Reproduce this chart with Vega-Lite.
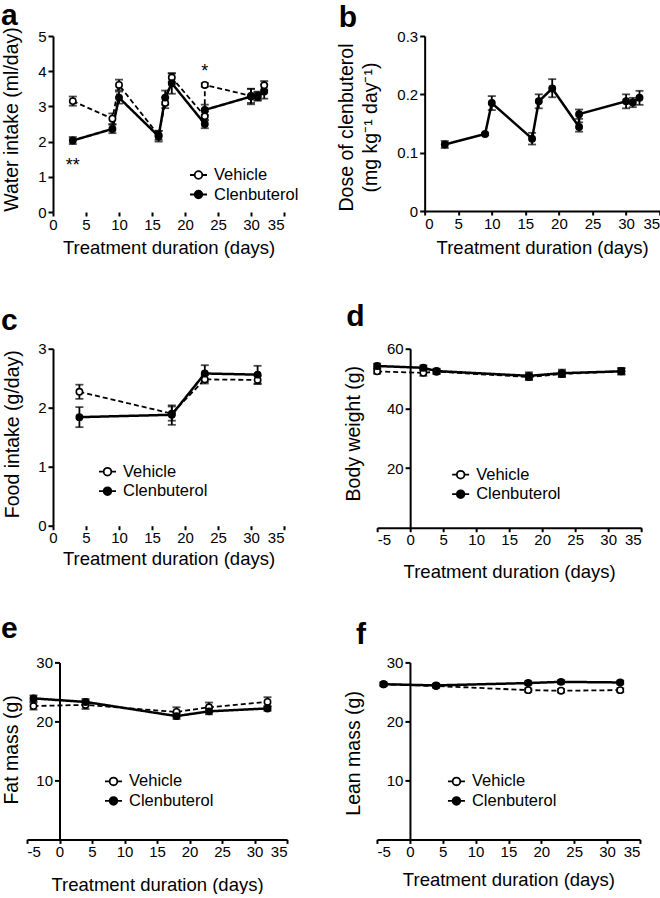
{
  "$schema": "https://vega.github.io/schema/vega-lite/v6.json",
  "padding": 0,
  "autosize": {"type": "pad"},
  "background": "white",
  "config": {
    "font": "Liberation Sans",
    "view": {"stroke": null},
    "axis": {"grid": false, "domainColor": "black", "domainWidth": 2, "tickColor": "black", "tickWidth": 2, "tickSize": 5, "labelColor": "black", "labelFontSize": 15, "labelFont": "Liberation Sans", "titleFont": "Liberation Sans", "titleColor": "black", "titleFontWeight": "normal", "labelPadding": 2},
    "axisX": {"titleFontSize": 18.5, "titleBaseline": "top", "labelPadding": 1, "tickSize": 4},
    "axisY": {"titleFontSize": 19.5, "titleBaseline": "middle", "titleAlign": "center", "titleAngle": -90},
    "title": {"fontSize": 30, "fontWeight": "bold", "anchor": "start", "frame": "group", "color": "black", "baseline": "alphabetic", "font": "Liberation Sans"},
    "legend": {"orient": "none", "symbolType": "M-1,0H-0.45M0.45,0H1M0.45,0A0.45,0.45,0,1,1,-0.45,0A0.45,0.45,0,1,1,0.45,0Z", "symbolSize": 289, "symbolStrokeColor": "black", "symbolStrokeWidth": 1.8, "labelFontSize": 16.5, "labelFont": "Liberation Sans", "labelColor": "black", "labelOffset": 6, "rowPadding": 1.5}
  },
  "datasets": {
    "a": [
      {"day": 3, "value": 3.15, "lo": 3.02, "hi": 3.28, "group": "Vehicle"},
      {"day": 9, "value": 2.65, "lo": 2.5, "hi": 2.8, "group": "Vehicle"},
      {"day": 10, "value": 3.61, "lo": 3.46, "hi": 3.76, "group": "Vehicle"},
      {"day": 16, "value": 2.18, "lo": 2.05, "hi": 2.31, "group": "Vehicle"},
      {"day": 17, "value": 3.1, "lo": 2.95, "hi": 3.25, "group": "Vehicle"},
      {"day": 18, "value": 3.82, "lo": 3.7, "hi": 3.94, "group": "Vehicle"},
      {"day": 23, "value": 2.72, "lo": 2.6, "hi": 2.85, "group": "Vehicle"},
      {"day": 23, "value": 3.61, "lo": 3.56, "hi": 3.66, "group": "Vehicle"},
      {"day": 30, "value": 3.3, "lo": 3.1, "hi": 3.5, "group": "Vehicle"},
      {"day": 31, "value": 3.3, "lo": 3.18, "hi": 3.42, "group": "Vehicle"},
      {"day": 32, "value": 3.6, "lo": 3.48, "hi": 3.72, "group": "Vehicle"},
      {"day": 3, "value": 2.03, "lo": 1.93, "hi": 2.13, "group": "Clenbuterol"},
      {"day": 9, "value": 2.36, "lo": 2.24, "hi": 2.48, "group": "Clenbuterol"},
      {"day": 10, "value": 3.25, "lo": 3.08, "hi": 3.42, "group": "Clenbuterol"},
      {"day": 16, "value": 2.15, "lo": 2.0, "hi": 2.3, "group": "Clenbuterol"},
      {"day": 17, "value": 3.25, "lo": 3.05, "hi": 3.45, "group": "Clenbuterol"},
      {"day": 18, "value": 3.66, "lo": 3.36, "hi": 3.94, "group": "Clenbuterol"},
      {"day": 23, "value": 2.5, "lo": 2.38, "hi": 2.62, "group": "Clenbuterol"},
      {"day": 23, "value": 2.9, "lo": 2.75, "hi": 3.05, "group": "Clenbuterol"},
      {"day": 30, "value": 3.28, "lo": 3.06, "hi": 3.5, "group": "Clenbuterol"},
      {"day": 31, "value": 3.28, "lo": 3.16, "hi": 3.4, "group": "Clenbuterol"},
      {"day": 32, "value": 3.42, "lo": 3.22, "hi": 3.62, "group": "Clenbuterol"}
    ],
    "b": [
      {"day": 3, "value": 0.114, "lo": 0.108, "hi": 0.12, "group": "Clenbuterol"},
      {"day": 9, "value": 0.132, "lo": 0.13, "hi": 0.134, "group": "Clenbuterol"},
      {"day": 10, "value": 0.185, "lo": 0.173, "hi": 0.197, "group": "Clenbuterol"},
      {"day": 16, "value": 0.124, "lo": 0.114, "hi": 0.134, "group": "Clenbuterol"},
      {"day": 17, "value": 0.188, "lo": 0.176, "hi": 0.2, "group": "Clenbuterol"},
      {"day": 19, "value": 0.21, "lo": 0.195, "hi": 0.226, "group": "Clenbuterol"},
      {"day": 23, "value": 0.144, "lo": 0.136, "hi": 0.152, "group": "Clenbuterol"},
      {"day": 23, "value": 0.166, "lo": 0.158, "hi": 0.174, "group": "Clenbuterol"},
      {"day": 30, "value": 0.188, "lo": 0.176, "hi": 0.2, "group": "Clenbuterol"},
      {"day": 31, "value": 0.186, "lo": 0.178, "hi": 0.194, "group": "Clenbuterol"},
      {"day": 32, "value": 0.194, "lo": 0.182, "hi": 0.206, "group": "Clenbuterol"}
    ],
    "c": [
      {"day": 4, "value": 2.27, "lo": 2.15, "hi": 2.39, "group": "Vehicle"},
      {"day": 18, "value": 1.9, "lo": 1.78, "hi": 2.02, "group": "Vehicle"},
      {"day": 23, "value": 2.48, "lo": 2.41, "hi": 2.55, "group": "Vehicle"},
      {"day": 31, "value": 2.47, "lo": 2.4, "hi": 2.54, "group": "Vehicle"},
      {"day": 4, "value": 1.84, "lo": 1.67, "hi": 2.01, "group": "Clenbuterol"},
      {"day": 18, "value": 1.88, "lo": 1.71, "hi": 2.04, "group": "Clenbuterol"},
      {"day": 23, "value": 2.58, "lo": 2.44, "hi": 2.72, "group": "Clenbuterol"},
      {"day": 31, "value": 2.56, "lo": 2.41, "hi": 2.71, "group": "Clenbuterol"}
    ],
    "d": [
      {"day": -5, "value": 52.4, "lo": 51.6, "hi": 53.2, "group": "Vehicle"},
      {"day": 2, "value": 51.9, "lo": 50.9, "hi": 52.9, "group": "Vehicle"},
      {"day": 4, "value": 52.3, "lo": 51.5, "hi": 53.1, "group": "Vehicle"},
      {"day": 18, "value": 50.5, "lo": 49.5, "hi": 51.5, "group": "Vehicle"},
      {"day": 23, "value": 51.5, "lo": 50.5, "hi": 52.5, "group": "Vehicle"},
      {"day": 32, "value": 52.5, "lo": 51.5, "hi": 53.5, "group": "Vehicle"},
      {"day": -5, "value": 54.2, "lo": 53.4, "hi": 55.0, "group": "Clenbuterol"},
      {"day": 2, "value": 53.6, "lo": 52.8, "hi": 54.4, "group": "Clenbuterol"},
      {"day": 4, "value": 52.5, "lo": 51.7, "hi": 53.3, "group": "Clenbuterol"},
      {"day": 18, "value": 50.9, "lo": 49.7, "hi": 52.1, "group": "Clenbuterol"},
      {"day": 23, "value": 51.8, "lo": 50.6, "hi": 53.0, "group": "Clenbuterol"},
      {"day": 32, "value": 52.4, "lo": 51.3, "hi": 53.5, "group": "Clenbuterol"}
    ],
    "e": [
      {"day": -4, "value": 22.6, "lo": 22.0, "hi": 23.2, "group": "Vehicle"},
      {"day": 4, "value": 22.8, "lo": 22.1, "hi": 23.5, "group": "Vehicle"},
      {"day": 18, "value": 21.6, "lo": 20.8, "hi": 22.4, "group": "Vehicle"},
      {"day": 23, "value": 22.4, "lo": 21.6, "hi": 23.2, "group": "Vehicle"},
      {"day": 32, "value": 23.3, "lo": 22.5, "hi": 24.1, "group": "Vehicle"},
      {"day": -4, "value": 23.9, "lo": 23.4, "hi": 24.4, "group": "Clenbuterol"},
      {"day": 4, "value": 23.3, "lo": 22.8, "hi": 23.8, "group": "Clenbuterol"},
      {"day": 18, "value": 20.9, "lo": 20.4, "hi": 21.4, "group": "Clenbuterol"},
      {"day": 23, "value": 21.7, "lo": 21.2, "hi": 22.2, "group": "Clenbuterol"},
      {"day": 32, "value": 22.2, "lo": 21.8, "hi": 22.6, "group": "Clenbuterol"}
    ],
    "f": [
      {"day": -4, "value": 26.3, "lo": 26.0, "hi": 26.6, "group": "Vehicle"},
      {"day": 4, "value": 26.0, "lo": 25.7, "hi": 26.3, "group": "Vehicle"},
      {"day": 18, "value": 25.3, "lo": 25.0, "hi": 25.6, "group": "Vehicle"},
      {"day": 23, "value": 25.2, "lo": 24.9, "hi": 25.5, "group": "Vehicle"},
      {"day": 32, "value": 25.3, "lo": 25.0, "hi": 25.6, "group": "Vehicle"},
      {"day": -4, "value": 26.3, "lo": 26.0, "hi": 26.6, "group": "Clenbuterol"},
      {"day": 4, "value": 26.1, "lo": 25.8, "hi": 26.4, "group": "Clenbuterol"},
      {"day": 18, "value": 26.5, "lo": 26.2, "hi": 26.8, "group": "Clenbuterol"},
      {"day": 23, "value": 26.7, "lo": 26.4, "hi": 27.0, "group": "Clenbuterol"},
      {"day": 32, "value": 26.6, "lo": 26.3, "hi": 26.9, "group": "Clenbuterol"}
    ]
  },
  "columns": 1,
  "bounds": "full",
  "spacing": 32.7,
  "resolve": {"scale": {"fill": "independent", "strokeDash": "independent", "strokeWidth": "independent"}, "legend": {"fill": "independent", "strokeDash": "independent", "strokeWidth": "independent"}},
  "concat": [
    {
      "bounds": "full",
      "spacing": 36.65,
      "resolve": {"scale": {"fill": "independent", "strokeDash": "independent", "strokeWidth": "independent"}, "legend": {"fill": "independent", "strokeDash": "independent", "strokeWidth": "independent"}},
      "hconcat": [
        {
          "width": 257, "height": 176,
          "title": {"text": "a", "dx": -26, "offset": -4},
          "data": {"name": "a"},
          "encoding": {
            "x": {"field": "day", "type": "quantitative", "scale": {"domain": [-3.9394, 35], "nice": false, "zero": false}, "axis": {"values": [0, 5, 10, 15, 20, 25, 30, 35], "domain": false, "title": ["Treatment duration (days)", " "], "titleLineHeight": 12, "titleY": 26.5, "titleX": 141.5}},
            "y": {"field": "value", "type": "quantitative", "scale": {"domain": [0, 5], "nice": false}, "axis": {"values": [0, 1, 2, 3, 4, 5], "offset": -26, "title": "Water intake (ml/day)", "titleX": -42, "titleY": 83}}
          },
          "layer": [
            {"data": {"values": [{}]}, "mark": {"type": "rule", "color": "black", "strokeWidth": 2}, "encoding": {"x": {"datum": 0}, "x2": {"datum": 35}, "y": {"datum": 0}}},
            {"mark": {"type": "errorbar", "ticks": true, "color": "black", "thickness": 1.8, "size": 8}, "encoding": {"y": {"field": "lo", "type": "quantitative", "scale": {"domain": [0, 5], "nice": false}, "axis": {"values": [0, 1, 2, 3, 4, 5], "offset": -26, "title": "Water intake (ml/day)", "titleX": -42, "titleY": 83}}, "y2": {"field": "hi"}}},
            {"mark": {"type": "line", "color": "black"}, "encoding": {"strokeDash": {"field": "group", "type": "nominal", "scale": {"domain": ["Clenbuterol", "Vehicle"], "range": [[1, 0], [5, 3]]}, "legend": null}, "strokeWidth": {"field": "group", "type": "nominal", "scale": {"domain": ["Clenbuterol", "Vehicle"], "range": [2.5, 1.8]}, "legend": null}}},
            {"mark": {"type": "point", "shape": "circle", "filled": true, "stroke": "black", "strokeWidth": 1.6, "size": 40, "opacity": 1}, "encoding": {"fill": {"field": "group", "type": "nominal", "scale": {"domain": ["Vehicle", "Clenbuterol"], "range": ["white", "black"]}, "legend": {"title": null, "orient": "none", "legendX": 162, "legendY": 129.5}}}},
            {"data": {"values": [{"day": 3, "value": 1.3, "label": "**"}, {"day": 23, "value": 3.97, "label": "*"}]}, "mark": {"type": "text", "fontSize": 18, "baseline": "middle", "align": "center", "color": "black"}, "encoding": {"text": {"field": "label"}}}
          ]
        },
        {
          "width": 235, "height": 175,
          "title": {"text": "b", "dx": -86, "offset": -3.5},
          "data": {"name": "b"},
          "encoding": {
            "x": {"field": "day", "type": "quantitative", "scale": {"domain": [0, 35], "nice": false, "zero": false}, "axis": {"values": [0, 5, 10, 15, 20, 25, 30, 35], "title": ["Treatment duration (days)", " "], "titleLineHeight": 12, "titleY": 27.5}},
            "y": {"field": "value", "type": "quantitative", "scale": {"domain": [0, 0.3], "nice": false}, "axis": {"values": [0, 0.1, 0.2, 0.3], "labelExpr": "'' + datum.value", "title": ["Dose of clenbuterol", "(mg kg⁻¹ day⁻¹)"], "titleLineHeight": 24, "titleX": -78, "titleY": 91}}
          },
          "layer": [
            {"mark": {"type": "errorbar", "ticks": true, "color": "black", "thickness": 1.8, "size": 8}, "encoding": {"y": {"field": "lo", "type": "quantitative", "scale": {"domain": [0, 0.3], "nice": false}, "axis": {"values": [0, 0.1, 0.2, 0.3], "labelExpr": "'' + datum.value", "title": ["Dose of clenbuterol", "(mg kg⁻¹ day⁻¹)"], "titleLineHeight": 24, "titleX": -78, "titleY": 91}}, "y2": {"field": "hi"}}},
            {"mark": {"type": "line", "color": "black", "strokeWidth": 2.5}},
            {"mark": {"type": "point", "shape": "circle", "filled": true, "fill": "black", "stroke": "black", "strokeWidth": 1.6, "size": 40, "opacity": 1}}
          ]
        }
      ]
    },
    {
      "bounds": "full",
      "spacing": 58.15,
      "resolve": {"scale": {"fill": "independent", "strokeDash": "independent", "strokeWidth": "independent"}, "legend": {"fill": "independent", "strokeDash": "independent", "strokeWidth": "independent"}},
      "hconcat": [
        {
          "width": 257, "height": 177,
          "title": {"text": "c", "dx": -26, "offset": 5.7},
          "data": {"name": "c"},
          "encoding": {
            "x": {"field": "day", "type": "quantitative", "scale": {"domain": [-3.9394, 35], "nice": false, "zero": false}, "axis": {"values": [0, 5, 10, 15, 20, 25, 30, 35], "domain": false, "title": "Treatment duration (days)", "titleY": 23.5, "titleX": 141.5}},
            "y": {"field": "value", "type": "quantitative", "scale": {"domain": [0, 3], "nice": false}, "axis": {"values": [0, 1, 2, 3], "offset": -26, "title": "Food intake (g/day)", "titleX": -41, "titleY": 85}}
          },
          "layer": [
            {"data": {"values": [{}]}, "mark": {"type": "rule", "color": "black", "strokeWidth": 2}, "encoding": {"x": {"datum": 0}, "x2": {"datum": 35}, "y": {"datum": 0}}},
            {"mark": {"type": "errorbar", "ticks": true, "color": "black", "thickness": 1.8, "size": 8}, "encoding": {"y": {"field": "lo", "type": "quantitative", "scale": {"domain": [0, 3], "nice": false}, "axis": {"values": [0, 1, 2, 3], "offset": -26, "title": "Food intake (g/day)", "titleX": -41, "titleY": 85}}, "y2": {"field": "hi"}}},
            {"mark": {"type": "line", "color": "black"}, "encoding": {"strokeDash": {"field": "group", "type": "nominal", "scale": {"domain": ["Clenbuterol", "Vehicle"], "range": [[1, 0], [5, 3]]}, "legend": null}, "strokeWidth": {"field": "group", "type": "nominal", "scale": {"domain": ["Clenbuterol", "Vehicle"], "range": [2.5, 1.8]}, "legend": null}}},
            {"mark": {"type": "point", "shape": "circle", "filled": true, "stroke": "black", "strokeWidth": 1.6, "size": 40, "opacity": 1}, "encoding": {"fill": {"field": "group", "type": "nominal", "scale": {"domain": ["Vehicle", "Clenbuterol"], "range": ["white", "black"]}, "legend": {"title": null, "orient": "none", "legendX": 71, "legendY": 113.5}}}}
          ]
        },
        {
          "width": 264, "height": 179,
          "title": {"text": "d", "dx": -31, "offset": 9.3},
          "data": {"name": "d"},
          "encoding": {
            "x": {"field": "day", "type": "quantitative", "scale": {"domain": [-5, 35], "nice": false, "zero": false}, "axis": {"values": [-5, 0, 5, 10, 15, 20, 25, 30, 35], "labelExpr": "'' + datum.value", "title": "Treatment duration (days)", "titleY": 34.5}},
            "y": {"field": "value", "type": "quantitative", "scale": {"domain": [0, 60], "nice": false}, "axis": {"values": [20, 40, 60], "offset": -33, "title": "Body weight (g)", "titleX": -56.5, "titleY": 84.5}}
          },
          "layer": [
            {"mark": {"type": "errorbar", "ticks": true, "color": "black", "thickness": 1.8, "size": 8}, "encoding": {"y": {"field": "lo", "type": "quantitative", "scale": {"domain": [0, 60], "nice": false}, "axis": {"values": [20, 40, 60], "offset": -33, "title": "Body weight (g)", "titleX": -56.5, "titleY": 84.5}}, "y2": {"field": "hi"}}},
            {"mark": {"type": "line", "color": "black"}, "encoding": {"strokeDash": {"field": "group", "type": "nominal", "scale": {"domain": ["Clenbuterol", "Vehicle"], "range": [[1, 0], [5, 3]]}, "legend": null}, "strokeWidth": {"field": "group", "type": "nominal", "scale": {"domain": ["Clenbuterol", "Vehicle"], "range": [2.5, 1.8]}, "legend": null}}},
            {"mark": {"type": "point", "shape": "circle", "filled": true, "stroke": "black", "strokeWidth": 1.6, "size": 40, "opacity": 1}, "encoding": {"fill": {"field": "group", "type": "nominal", "scale": {"domain": ["Vehicle", "Clenbuterol"], "range": ["white", "black"]}, "legend": {"title": null, "orient": "none", "legendX": 74, "legendY": 116.5}}}}
          ]
        }
      ]
    },
    {
      "bounds": "full",
      "spacing": 54.95,
      "resolve": {"scale": {"fill": "independent", "strokeDash": "independent", "strokeWidth": "independent"}, "legend": {"fill": "independent", "strokeDash": "independent", "strokeWidth": "independent"}},
      "hconcat": [
        {
          "width": 260, "height": 177,
          "title": {"text": "e", "dx": -26, "offset": 11.3},
          "data": {"name": "e"},
          "encoding": {
            "x": {"field": "day", "type": "quantitative", "scale": {"domain": [-5, 35], "nice": false, "zero": false}, "axis": {"values": [-5, 0, 5, 10, 15, 20, 25, 30, 35], "labelExpr": "'' + datum.value", "title": "Treatment duration (days)", "titleY": 36}},
            "y": {"field": "value", "type": "quantitative", "scale": {"domain": [0, 30], "nice": false}, "axis": {"values": [10, 20, 30], "offset": -32.5, "title": "Fat mass (g)", "titleX": -48.5, "titleY": 87}}
          },
          "layer": [
            {"mark": {"type": "errorbar", "ticks": true, "color": "black", "thickness": 1.8, "size": 8}, "encoding": {"y": {"field": "lo", "type": "quantitative", "scale": {"domain": [0, 30], "nice": false}, "axis": {"values": [10, 20, 30], "offset": -32.5, "title": "Fat mass (g)", "titleX": -48.5, "titleY": 87}}, "y2": {"field": "hi"}}},
            {"mark": {"type": "line", "color": "black"}, "encoding": {"strokeDash": {"field": "group", "type": "nominal", "scale": {"domain": ["Clenbuterol", "Vehicle"], "range": [[1, 0], [5, 3]]}, "legend": null}, "strokeWidth": {"field": "group", "type": "nominal", "scale": {"domain": ["Clenbuterol", "Vehicle"], "range": [2.5, 1.8]}, "legend": null}}},
            {"mark": {"type": "point", "shape": "circle", "filled": true, "stroke": "black", "strokeWidth": 1.6, "size": 40, "opacity": 1}, "encoding": {"fill": {"field": "group", "type": "nominal", "scale": {"domain": ["Vehicle", "Clenbuterol"], "range": ["white", "black"]}, "legend": {"title": null, "orient": "none", "legendX": 77, "legendY": 109.5}}}}
          ]
        },
        {
          "width": 263, "height": 177,
          "title": {"text": "f", "dx": -21, "offset": 5.7},
          "data": {"name": "f"},
          "encoding": {
            "x": {"field": "day", "type": "quantitative", "scale": {"domain": [-5, 35], "nice": false, "zero": false}, "axis": {"values": [-5, 0, 5, 10, 15, 20, 25, 30, 35], "labelExpr": "'' + datum.value", "title": "Treatment duration (days)", "titleY": 31}},
            "y": {"field": "value", "type": "quantitative", "scale": {"domain": [0, 30], "nice": false}, "axis": {"values": [10, 20, 30], "offset": -33, "title": "Lean mass (g)", "titleX": -56.7, "titleY": 90.5}}
          },
          "layer": [
            {"mark": {"type": "errorbar", "ticks": true, "color": "black", "thickness": 1.8, "size": 8}, "encoding": {"y": {"field": "lo", "type": "quantitative", "scale": {"domain": [0, 30], "nice": false}, "axis": {"values": [10, 20, 30], "offset": -33, "title": "Lean mass (g)", "titleX": -56.7, "titleY": 90.5}}, "y2": {"field": "hi"}}},
            {"mark": {"type": "line", "color": "black"}, "encoding": {"strokeDash": {"field": "group", "type": "nominal", "scale": {"domain": ["Clenbuterol", "Vehicle"], "range": [[1, 0], [5, 3]]}, "legend": null}, "strokeWidth": {"field": "group", "type": "nominal", "scale": {"domain": ["Clenbuterol", "Vehicle"], "range": [2.5, 1.8]}, "legend": null}}},
            {"mark": {"type": "point", "shape": "circle", "filled": true, "stroke": "black", "strokeWidth": 1.6, "size": 40, "opacity": 1}, "encoding": {"fill": {"field": "group", "type": "nominal", "scale": {"domain": ["Vehicle", "Clenbuterol"], "range": ["white", "black"]}, "legend": {"title": null, "orient": "none", "legendX": 70, "legendY": 109.5}}}}
          ]
        }
      ]
    }
  ]
}
